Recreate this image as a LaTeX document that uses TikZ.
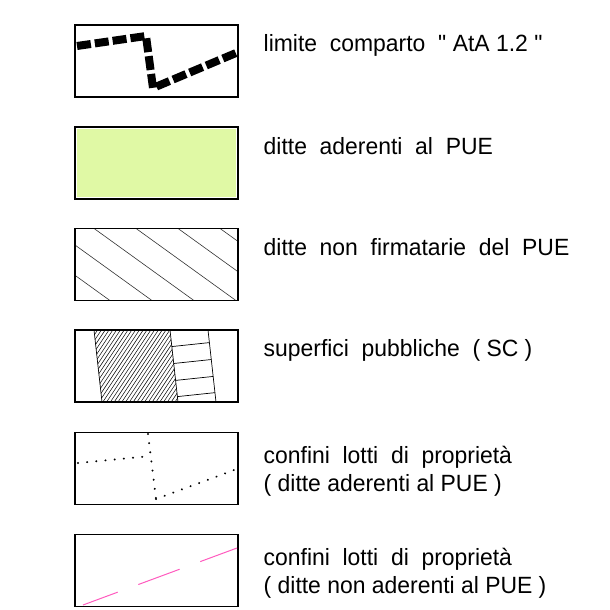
\documentclass[tikz,border=0pt]{standalone}
\usepackage{fontspec}
\setmainfont[FakeStretch=0.975]{Liberation Sans}
\usepackage{xcolor}
\usepackage{tikz}
\usetikzlibrary{calc}
\definecolor{aderenti}{RGB}{224,249,165}
\definecolor{rosa}{RGB}{255,90,190}

\begin{document}
\begin{tikzpicture}[x=1pt, y=-1pt,
                    box/.style={draw, line width=1.8pt, minimum width=163pt, minimum height=72pt, inner sep=0pt},
                    legend/.style={anchor=base west, inner sep=0pt, align=left, font=\fontsize{23.5}{28}\selectfont},
                    hatch/.style={line width=0.6pt, black!80},
                    dotline/.style={line width=2.2pt, line cap=round, dash pattern=on 0.01pt off 9.2pt}]
                                \useasboundingbox (0, 0) rectangle (610, 610);

                                \node (b1) at (156.5, 61) [box] {};
                                \node (b2) at (156.5, 163) [box] {};
                                \node (b3) at (156.5, 264.5) [box] {};
                                \node (b4) at (156.5, 366) [box] {};
                                \node (b5) at (156.5, 468.5) [box] {};
                                \node (b6) at (156.5, 570.5) [box] {};

                                \draw[line width=8pt, dash pattern=on 14pt off 4pt] (77, 46) -- (146, 36) -- (153, 88) -- (236, 53);

                                \fill[aderenti] ([shift={(2.5, 2.5)}]b2.north west) rectangle ([shift={(-2.5, -2.5)}]b2.south east);

                                \begin{scope}
                                \clip ([shift={(2, 2)}]b3.north west) rectangle ([shift={(-2, -2)}]b3.south east);
                                \foreach \x in {8, 50, ..., 218}
                                    \draw[hatch] (\x, 227) -- ++(104, 75);
                                \end{scope}

                                \coordinate (p1) at (94, 330);
                                \coordinate (p2) at (170, 330);
                                \coordinate (p3) at (178, 402);
                                \coordinate (p4) at (102, 402);
                                \coordinate (p5) at (208, 330);
                                \coordinate (p6) at (216, 402);
                                \begin{scope}
                                \clip (p1) -- (p2) -- (p3) -- (p4) -- cycle;
                                \foreach \x in {40, 43.8, ..., 200}
                                    \draw[line width=0.5pt] (\x, 405) -- ++(52, -78);
                                \end{scope}
                                \draw[line width=0.7pt] (p1) -- (p4);
                                \draw[line width=0.7pt] (p2) -- (p3);
                                \draw[line width=0.7pt] (p5) -- (p6);
                                \foreach \a in {0.23, 0.465, 0.70, 0.925}
                                    \draw[line width=0.7pt] ($(p2)!\a!(p3)$) -- ($(p5)!\a-0.055!(p6)$);

                                \draw[dotline] (78, 463) -- (151, 456);
                                \draw[dotline] (148, 434) -- (156, 499);
                                \draw[dotline] (156, 499) -- (237, 469);

                                \draw[rosa, line width=1pt, dash pattern=on 44pt off 22pt, dash phase=7pt] (83, 605) -- (237, 548);

                                \node (t1) at (263.5, 52) [legend] {limite~~comparto~~\textquotedbl{} AtA 1.2 \textquotedbl};
                                \node (t2) at (263.5, 154) [legend] {ditte~~aderenti~~al~~PUE};
                                \node (t3) at (263.5, 255) [legend] {ditte~~non~~firmatarie~~del~~PUE};
                                \node (t4) at (263.5, 356) [legend] {superfici~~pubbliche~~( SC )};
                                \node (t5) at (263.5, 491) [legend] {confini~~lotti~~di~~proprietà\\( ditte aderenti al PUE )};
                                \node (t6) at (263.5, 593) [legend] {confini~~lotti~~di~~proprietà\\( ditte non aderenti al PUE )};
                            \end{tikzpicture}
\end{document}
